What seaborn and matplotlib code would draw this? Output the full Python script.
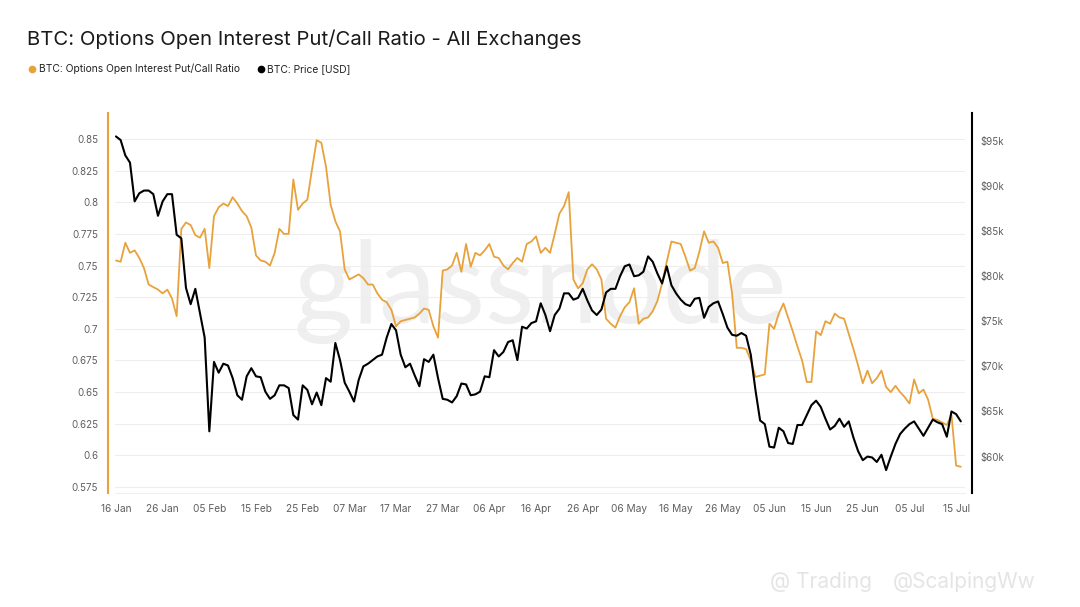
import matplotlib
matplotlib.use("Agg")
import matplotlib.pyplot as plt
from matplotlib.lines import Line2D
import seaborn as sns
import pandas as pd

# daily values, 16 Jan -> 16 Jul
put_call = [
    0.754, 0.753, 0.768, 0.760, 0.762, 0.756, 0.748, 0.735, 0.733, 0.731,
    0.728, 0.731, 0.724, 0.710, 0.779, 0.784, 0.782, 0.774, 0.772, 0.779,
    0.748, 0.789, 0.796, 0.799, 0.797, 0.804, 0.799, 0.793, 0.789, 0.780,
    0.758, 0.754, 0.753, 0.750, 0.760, 0.779, 0.775, 0.775, 0.818, 0.794,
    0.799, 0.802, 0.826, 0.849, 0.847, 0.828, 0.798, 0.785, 0.777, 0.747,
    0.739, 0.741, 0.743, 0.740, 0.735, 0.735, 0.728, 0.723, 0.721, 0.715,
    0.702, 0.706, 0.707, 0.708, 0.709, 0.712, 0.716, 0.715, 0.702, 0.693,
    0.746, 0.747, 0.750, 0.760, 0.745, 0.767, 0.749, 0.760, 0.758, 0.762,
    0.767, 0.757, 0.756, 0.750, 0.747, 0.752, 0.756, 0.753, 0.767, 0.769,
    0.773, 0.760, 0.764, 0.760, 0.775, 0.791, 0.797, 0.808, 0.739, 0.732,
    0.736, 0.747, 0.751, 0.747, 0.739, 0.708, 0.704, 0.701, 0.710, 0.717,
    0.721, 0.732, 0.704, 0.708, 0.709, 0.714, 0.722, 0.736, 0.753, 0.769,
    0.768, 0.767, 0.757, 0.746, 0.748, 0.761, 0.777, 0.768, 0.769, 0.764,
    0.752, 0.753, 0.728, 0.685, 0.685, 0.684, 0.675, 0.662, 0.663, 0.664,
    0.704, 0.700, 0.712, 0.720, 0.709, 0.698, 0.686, 0.675, 0.658, 0.658,
    0.698, 0.695, 0.706, 0.704, 0.712, 0.709, 0.708, 0.696, 0.684, 0.671,
    0.657, 0.667, 0.657, 0.661, 0.667, 0.654, 0.650, 0.655, 0.650, 0.646,
    0.641, 0.660, 0.649, 0.652, 0.644, 0.629, 0.628, 0.626, 0.624, 0.632,
    0.592, 0.591,
]

# BTC price, thousands of USD
price_k = [
    95.5, 95.1, 93.4, 92.6, 88.3, 89.2, 89.5, 89.5, 89.1, 86.7,
    88.3, 89.1, 89.1, 84.6, 84.2, 78.7, 76.9, 78.6, 75.9, 73.2,
    62.8, 70.5, 69.3, 70.3, 70.1, 68.7, 66.8, 66.3, 68.9, 69.8,
    68.9, 68.8, 67.2, 66.4, 66.8, 67.9, 67.9, 67.6, 64.6, 64.1,
    67.9, 67.4, 65.8, 67.1, 65.7, 68.7, 68.3, 72.6, 70.7, 68.2,
    67.2, 66.1, 68.5, 70.0, 70.3, 70.7, 71.1, 71.3, 73.2, 74.7,
    74.0, 71.3, 69.9, 70.3, 69.0, 67.8, 70.8, 70.5, 71.3, 68.7,
    66.4, 66.3, 66.0, 66.7, 68.1, 68.0, 66.8, 66.9, 67.2, 68.9,
    68.8, 71.8, 71.1, 71.6, 72.7, 72.9, 70.7, 74.4, 74.2, 74.8,
    75.0, 77.0, 75.7, 73.9, 75.7, 76.4, 78.1, 78.1, 77.4, 77.6,
    78.6, 77.3, 76.2, 75.7, 76.3, 78.2, 78.6, 78.6, 80.0, 81.1,
    81.3, 80.0, 80.1, 80.5, 82.2, 81.6, 80.3, 79.2, 81.1, 79.0,
    78.1, 77.4, 76.9, 76.7, 77.5, 77.6, 75.4, 76.6, 77.0, 77.2,
    75.8, 74.3, 73.5, 73.4, 73.7, 73.4, 71.3, 67.4, 64.0, 63.6,
    61.1, 61.0, 63.2, 62.8, 61.5, 61.4, 63.5, 63.5, 64.6, 65.7,
    66.2, 65.5, 64.2, 63.0, 63.4, 64.2, 63.3, 63.9, 62.1, 60.6,
    59.6, 60.0, 59.9, 59.4, 60.2, 58.5, 60.0, 61.4, 62.5, 63.1,
    63.6, 63.9, 63.1, 62.3, 63.2, 64.1, 63.8, 63.6, 62.2, 65.0,
    64.7, 63.9,
]

dates = pd.date_range("2026-01-16", periods=len(price_k), freq="D")
df = pd.DataFrame({"date": dates, "ratio": put_call, "price": price_k})

ratio_ticks = [0.575, 0.6, 0.625, 0.65, 0.675, 0.7, 0.725, 0.75, 0.775, 0.8, 0.825, 0.85]
price_ticks = [60, 65, 70, 75, 80, 85, 90, 95]
date_ticks = pd.date_range("2026-01-16", "2026-07-15", freq="10D")

orange = "#E8A23C"
grey_txt = "#5f5f5f"

sns.set_style("white")
plt.rcParams["font.family"] = ["Inter", "DejaVu Sans"]

fig = plt.figure(figsize=(10.8, 6.07), dpi=100)
ax = fig.add_axes([115 / 1080, 1 - 493 / 607, 850 / 1080, 380 / 607])
ax2 = ax.twinx()

sns.lineplot(data=df, x="date", y="ratio", ax=ax, color=orange, linewidth=1.3, legend=False)
sns.lineplot(data=df, x="date", y="price", ax=ax2, color="#000000", linewidth=1.5, legend=False)

ax.set_xlim(dates[0] - pd.Timedelta(hours=5), dates[0] + pd.Timedelta(days=181.9))
ax.set_ylim(0.5703, 0.8705)
ax2.set_ylim(55.96, 98.1)

ax.set_yticks(ratio_ticks)
ax.set_yticklabels([f"{v:g}" for v in ratio_ticks])
ax2.set_yticks(price_ticks)
ax2.set_yticklabels([f"${v}k" for v in price_ticks])
ax.set_xticks(date_ticks)
ax.set_xticklabels([d.strftime("%d %b") for d in date_ticks])

ax.grid(axis="y", color="#eeeeee", linewidth=0.8)
ax.set_xlabel("")
ax.set_ylabel("")
ax2.set_ylabel("")

for a in (ax, ax2):
    a.spines["top"].set_visible(False)
    a.spines["bottom"].set_color("#f0f0f0")
ax2.spines["left"].set_visible(False)
ax.spines["right"].set_visible(False)
ax.spines["left"].set_position(("outward", 5))
ax.spines["left"].set_color(orange)
ax.spines["left"].set_linewidth(1.5)
ax2.spines["right"].set_position(("outward", 5))
ax2.spines["right"].set_color("#000000")
ax2.spines["right"].set_linewidth(1.5)
ax2.spines["bottom"].set_visible(False)

ax.tick_params(axis="y", length=0, pad=7, labelsize=7, labelcolor=grey_txt)
ax2.tick_params(axis="y", length=0, pad=6, labelsize=7, labelcolor=grey_txt)
ax.tick_params(axis="x", length=5, width=0.8, color="#e2e2e2", pad=3, labelsize=7.3, labelcolor=grey_txt)

# watermark behind the lines
ax.text(0.5, 0.53, "glassnode", transform=ax.transAxes, ha="center", va="center",
        fontsize=82, color="#efefef", family=["Lato", "DejaVu Sans"], zorder=0.5)

fig.text(27 / 1080, 1 - 45 / 607, "BTC: Options Open Interest Put/Call Ratio - All Exchanges",
         fontsize=14.6, color="#1a1a1a", va="baseline")

handles = [
    Line2D([], [], marker="o", linestyle="", color=orange, markersize=4.5),
    Line2D([], [], marker="o", linestyle="", color="#000000", markersize=4.5),
]
fig.legend(handles, ["BTC: Options Open Interest Put/Call Ratio", "BTC: Price [USD]"],
           loc="center left", bbox_to_anchor=(18 / 1080, 1 - 69 / 607), ncol=2, frameon=False,
           fontsize=7.4, handletextpad=0.15, columnspacing=1.5, handlelength=1.0,
           labelcolor="#222222")

# faint repost watermark bottom right
fig.text(770 / 1080, 1 - 588 / 607, "@ Trading", fontsize=15, color="#dedede", alpha=0.8)
fig.text(893 / 1080, 1 - 588 / 607, "@ScalpingWw", fontsize=15, color="#dedede", alpha=0.8)

fig.savefig("out.png", dpi=100)
